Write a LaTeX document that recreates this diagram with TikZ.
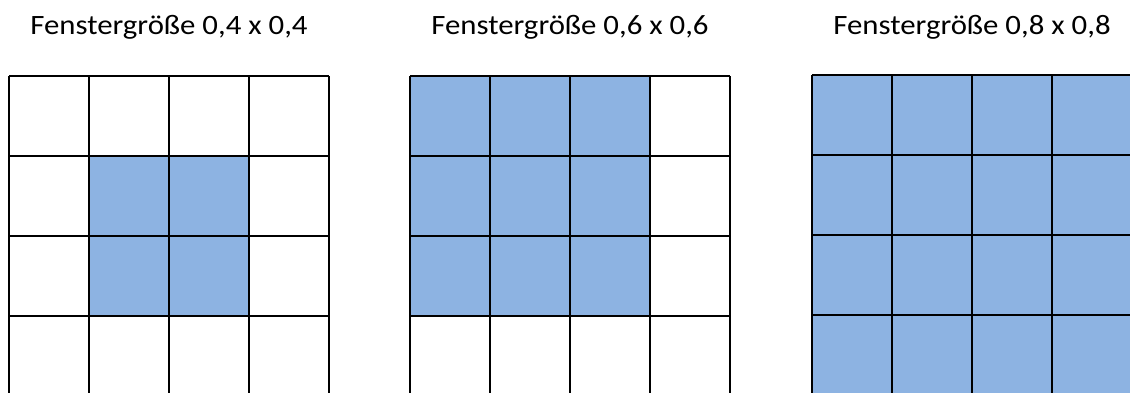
\documentclass[tikz,border=0pt]{standalone}
\usepackage{fontspec}
\setmainfont{Carlito}[FakeStretch=1.1]
\definecolor{zellblau}{RGB}{141,179,226}

\begin{document}
\begin{tikzpicture}[x=1pt,y=-1pt,line width=2pt]

  \tikzstyle{caption}=[font=\fontsize{28}{32}\selectfont,anchor=base,inner sep=0pt]
  \tikzstyle{hit}=[fill=zellblau]

  \useasboundingbox (0,0) rectangle (1130,392);
  \clip (0,0) rectangle (1130,392);

  % markierte Zellen
  \fill[hit] (89,156)  rectangle (249,316);
  \fill[hit] (410,76)  rectangle (650,316);
  \fill[hit] (812,75)  rectangle (1132,395);

  % Titel und Raster
  \foreach \x/\y/\t [count=\i] in {9/76/{0,4 x 0,4},410/76/{0,6 x 0,6},812/75/{0,8 x 0,8}} {
    \node[caption] (titel\i) at (\x+160,34) {Fenstergröße \t};
    \foreach \k in {0,...,4} {
      \draw (\x+80*\k,\y) -- (\x+80*\k,\y+320);
      \draw (\x,\y+80*\k) -- (\x+320,\y+80*\k);
    }
  }
\end{tikzpicture}
\end{document}
